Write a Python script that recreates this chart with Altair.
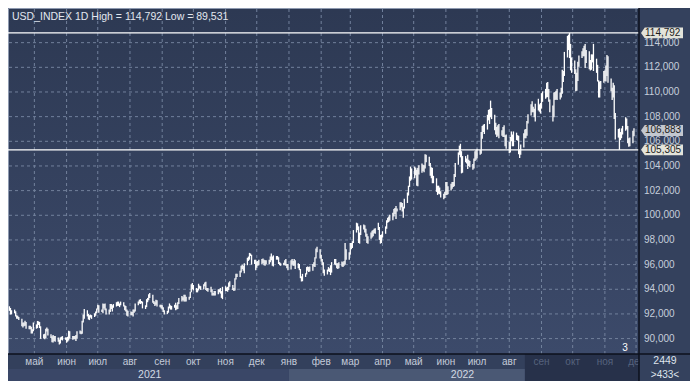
import altair as alt
import pandas as pd

# ---- daily bar lows / highs (weekdays from 2021-04-07 to 2022-11-29) ----
low = [
    # Apr 2021
    92.25, 91.95, 91.97, 92.05, 91.80, 91.60, 91.60, 91.50, 91.00, 90.90, 91.00, 91.05, 90.80, 90.75, 90.75, 90.42, 90.42, 90.60,
    # May 2021
    90.80, 90.85, 91.10, 90.85, 89.98, 90.00, 89.95, 90.05, 90.58, 90.25, 90.05, 89.70, 89.68, 89.80, 89.75, 89.75, 89.53, 89.60, 89.90, 89.85, 89.90,
    # Jun 2021
    89.66, 89.75, 89.85, 90.00, 89.90, 89.95, 89.95, 89.80, 90.00, 90.40, 90.35, 90.40, 91.30, 91.60, 91.80, 91.55, 91.50, 91.70, 91.60, 91.75, 91.85, 92.05,
    # Jul 2021
    92.35, 92.10, 92.15, 92.05, 92.45, 92.30, 91.95, 91.95, 92.15, 92.40, 92.20, 92.50, 92.60, 92.65, 92.65, 92.55, 92.70, 92.60, 92.30, 92.20, 91.85, 91.80,
    # Aug 2021
    91.90, 91.90, 91.80, 92.10, 92.20, 92.70, 92.85, 92.80, 92.85, 92.45, 92.40, 92.55, 92.95, 93.10, 93.30, 92.90, 92.80, 92.65, 92.75, 92.60, 92.55, 92.45,
    # Sep 2021
    92.35, 92.15, 91.95, 92.00, 92.10, 92.45, 92.35, 92.35, 92.50, 92.30, 92.35, 92.40, 92.80, 93.00, 93.10, 93.00, 93.00, 93.00, 93.15, 93.30, 93.75, 94.00,
    # Oct 2021
    93.90, 93.75, 93.75, 93.90, 94.05, 93.95, 94.00, 94.25, 93.95, 93.85, 93.80, 93.75, 93.50, 93.50, 93.50, 93.50, 93.60, 93.75, 93.65, 93.30, 93.20,
    # Nov 2021
    93.85, 93.85, 93.80, 93.95, 94.20, 93.95, 93.85, 93.90, 94.80, 95.00, 95.00, 95.35, 95.65, 95.50, 95.30, 95.95, 96.30, 96.40, 96.70, 96.00, 96.05, 95.55,
    # Dec 2021
    95.75, 95.90, 95.95, 96.05, 96.10, 95.95, 95.90, 96.00, 96.05, 96.20, 96.35, 95.90, 95.85, 96.40, 96.40, 96.05, 95.95, 95.90, 95.95, 95.95, 95.90, 95.70, 95.55,
    # Jan 2022
    95.60, 96.00, 95.90, 95.90, 95.65, 95.70, 95.55, 94.90, 94.63, 94.65, 95.00, 95.20, 95.50, 95.40, 95.45, 95.50, 95.85, 95.80, 96.50, 97.00, 96.50,
    # Feb 2022
    96.25, 95.95, 95.30, 95.10, 95.20, 95.45, 95.40, 95.15, 95.35, 96.00, 95.95, 95.70, 95.65, 95.70, 95.85, 95.80, 95.90, 96.00, 96.40, 96.40,
    # Mar 2022
    96.80, 97.25, 97.35, 97.75, 98.60, 98.80, 97.75, 97.70, 98.40, 98.85, 98.60, 98.25, 97.75, 97.70, 98.10, 98.20, 98.30, 98.55, 98.50, 98.80, 98.00, 97.70, 97.75,
    # Apr 2022
    98.20, 98.50, 98.90, 99.40, 99.45, 99.55, 99.60, 99.90, 100.10, 99.70, 100.30, 100.40, 100.65, 100.30, 99.80, 100.55, 101.00, 101.60, 102.30, 102.80, 102.90,
    # May 2022
    103.00, 103.25, 102.40, 102.35, 103.30, 103.45, 103.60, 103.50, 103.80, 104.30, 104.00, 103.20, 103.00, 102.60, 102.60, 101.90, 101.65, 101.75, 101.70, 101.45, 101.30, 101.40,
    # Jun 2022
    101.65, 101.65, 101.70, 102.00, 102.15, 102.30, 102.35, 103.10, 104.10, 104.90, 104.70, 103.40, 103.45, 104.30, 104.20, 103.75, 104.00, 103.90, 103.70, 103.80, 104.40, 104.50,
    # Jul 2022
    104.60, 104.90, 105.00, 106.20, 106.75, 106.60, 106.95, 107.70, 107.40, 107.95, 107.80, 106.90, 106.55, 106.35, 106.45, 106.25, 106.45, 106.35, 106.35, 105.60, 105.40,
    # Aug 2022
    105.05, 105.10, 106.00, 105.60, 105.60, 106.10, 106.05, 104.95, 104.65, 104.90, 105.50, 106.25, 106.25, 106.45, 107.45, 108.10, 108.35, 108.35, 107.95, 107.60, 108.50, 108.40, 108.25,
    # Sep 2022
    108.65, 109.20, 109.45, 109.55, 109.60, 109.20, 108.35, 107.60, 107.95, 109.35, 109.40, 109.35, 109.40, 109.55, 109.85, 110.80, 111.30, 112.80, 113.40, 112.75, 111.75, 111.55,
    # Oct 2022
    111.45, 110.05, 110.10, 110.90, 112.05, 112.75, 112.90, 112.90, 111.95, 112.35, 111.85, 111.75, 111.80, 112.40, 111.70, 111.55, 110.85, 109.55, 109.55, 110.25, 110.75,
    # Nov 2022
    110.90, 110.85, 111.30, 110.75, 110.05, 109.35, 109.55, 107.80, 106.15, 106.30, 105.31, 106.10, 106.25, 106.55, 106.85, 106.95, 105.85, 105.55, 105.60, 105.85, 106.40,
]

high = [
    # Apr 2021
    92.62, 92.48, 92.30, 92.35, 92.22, 91.90, 91.85, 91.75, 91.60, 91.30, 91.30, 91.45, 91.35, 91.05, 91.05, 90.95, 90.75, 91.30,
    # May 2021
    91.15, 91.43, 91.40, 91.35, 91.00, 90.35, 90.40, 90.80, 90.90, 90.80, 90.35, 90.18, 90.30, 90.20, 90.20, 90.08, 89.92, 90.10, 90.15, 90.20, 90.10,
    # Jun 2021
    90.10, 90.15, 90.63, 90.60, 90.20, 90.20, 90.20, 90.30, 90.60, 90.65, 90.60, 91.45, 91.95, 92.40, 92.30, 92.00, 91.90, 91.95, 91.90, 92.05, 92.20, 92.45,
    # Jul 2021
    92.75, 92.70, 92.35, 92.85, 92.80, 92.85, 92.45, 92.35, 92.80, 92.80, 92.70, 92.80, 92.95, 93.00, 93.00, 92.85, 93.00, 92.95, 92.70, 92.65, 92.35, 92.25,
    # Aug 2021
    92.20, 92.15, 92.35, 92.35, 92.85, 93.00, 93.15, 93.20, 93.05, 93.00, 92.70, 93.20, 93.30, 93.60, 93.70, 93.55, 93.05, 92.95, 93.15, 93.10, 92.75, 92.75,
    # Sep 2021
    92.70, 92.55, 92.30, 92.25, 92.60, 92.85, 92.70, 92.65, 92.75, 92.90, 92.70, 92.95, 93.30, 93.45, 93.35, 93.55, 93.55, 93.40, 93.40, 93.80, 94.40, 94.50,
    # Oct 2021
    94.35, 94.10, 94.05, 94.45, 94.30, 94.25, 94.40, 94.55, 94.60, 94.10, 94.10, 94.20, 94.00, 93.70, 93.85, 93.85, 94.00, 94.00, 94.10, 93.85, 94.20,
    # Nov 2021
    94.25, 94.15, 94.20, 94.55, 94.65, 94.35, 94.10, 94.90, 95.25, 95.25, 95.50, 95.90, 96.00, 95.90, 96.10, 96.55, 96.65, 96.95, 96.90, 96.80, 96.40, 96.40,
    # Dec 2021
    96.25, 96.30, 96.40, 96.45, 96.50, 96.40, 96.35, 96.35, 96.40, 96.65, 96.90, 96.65, 96.75, 96.70, 96.70, 96.60, 96.20, 96.10, 96.15, 96.35, 96.45, 96.05, 96.05,
    # Jan 2022
    96.35, 96.45, 96.30, 96.45, 96.35, 96.10, 96.05, 95.65, 95.05, 95.25, 95.30, 95.80, 95.85, 95.80, 95.85, 96.05, 96.20, 96.60, 97.30, 97.45, 97.25,
    # Feb 2022
    96.80, 96.45, 96.20, 95.60, 95.60, 95.80, 95.70, 95.95, 96.20, 96.45, 96.45, 96.10, 96.10, 96.20, 96.25, 96.20, 96.30, 97.75, 97.25, 97.00,
    # Mar 2022
    97.75, 97.75, 97.90, 98.80, 99.40, 99.35, 99.10, 98.60, 99.20, 99.25, 99.20, 98.90, 98.50, 98.30, 98.60, 98.75, 98.80, 98.90, 98.95, 99.40, 99.05, 98.40, 98.45,
    # Apr 2022
    98.70, 99.10, 99.60, 99.80, 99.90, 100.05, 100.20, 100.50, 100.60, 100.75, 100.55, 101.05, 101.05, 101.00, 100.70, 101.35, 101.85, 102.40, 103.15, 103.95, 103.80,
    # May 2022
    103.95, 103.85, 103.70, 103.85, 104.05, 104.20, 104.10, 104.05, 104.95, 104.90, 104.75, 104.25, 103.90, 103.85, 103.20, 103.00, 102.40, 102.40, 102.25, 101.95, 101.75, 101.90,
    # Jun 2022
    102.70, 102.70, 102.35, 102.55, 102.70, 102.70, 103.35, 104.25, 105.10, 105.65, 105.80, 105.20, 104.80, 104.80, 104.60, 104.90, 104.50, 104.40, 104.15, 104.60, 105.20, 105.30,
    # Jul 2022
    105.40, 105.30, 106.75, 107.25, 107.35, 107.40, 108.15, 108.55, 108.60, 109.30, 108.70, 108.15, 107.50, 107.15, 107.30, 107.40, 106.90, 107.15, 107.30, 106.50, 106.55,
    # Aug 2022
    105.95, 106.35, 106.80, 106.55, 106.80, 106.70, 106.50, 106.45, 105.35, 105.75, 106.65, 106.95, 107.00, 107.65, 108.20, 109.00, 109.25, 108.80, 108.65, 109.05, 109.45, 109.00, 109.10,
    # Sep 2022
    109.90, 110.05, 110.25, 110.75, 110.80, 110.25, 109.40, 108.90, 109.95, 110.00, 110.10, 110.25, 109.95, 110.35, 111.80, 111.70, 113.25, 114.55, 114.65, 114.79, 113.90, 112.80,
    # Oct 2022
    112.55, 111.85, 111.55, 112.45, 112.95, 113.30, 113.55, 113.75, 113.90, 113.40, 113.30, 112.60, 113.05, 113.05, 113.90, 112.70, 112.20, 110.95, 110.85, 110.90, 111.70,
    # Nov 2022
    111.75, 112.15, 113.00, 112.90, 111.10, 110.35, 110.75, 110.55, 108.30, 107.00, 107.05, 106.75, 107.05, 107.25, 107.95, 107.85, 107.25, 106.25, 106.30, 106.85, 107.05,
]

month_starts = ["2021-05-01", "2021-06-01", "2021-07-01", "2021-08-01", "2021-09-01",
                "2021-10-01", "2021-11-01", "2021-12-01", "2022-01-01", "2022-02-01",
                "2022-03-01", "2022-04-01", "2022-05-01", "2022-06-01", "2022-07-01",
                "2022-08-01", "2022-09-01", "2022-10-01", "2022-11-01", "2022-12-01"]
month_labels = ["май", "июн", "июл", "авг", "сен", "окт", "ноя", "дек", "янв", "фев",
                "мар", "апр", "май", "июн", "июл", "авг", "сен", "окт", "ноя", "дек"]
month_colors = ["#c3cbd9"] * 16 + ["#56627d"] * 4

year_labels = ["2021", "2022"]
year_label_dates = ["2021-08-20", "2022-06-17"]
year_starts = ["2021-04-01", "2022-01-01"]
year_ends = ["2022-01-01", "2022-12-10"]
year_colors = ["#3a4767", "#4a5874"]
dim_start = ["2022-08-16"]
dim_end = ["2022-12-10"]

y_ticks = [90, 92, 94, 96, 98, 100, 102, 104, 106, 108, 110, 112, 114]
level_values = [114.792, 105.305]
tag_values = [114.792, 106.883, 105.305]
tag_fills = ["#e3e3da", "#c3c7cf", "#e3e3da"]
title_text = "USD_INDEX 1D High = 114,792 Low = 89,531"
bar_count_top = "2449"
bar_count_bottom = ">433<"

# ---- layout ----
W, H = 682, 373
PX0, PX1 = 1, 631
PY0, PY1 = 1, 346
ROW2 = 361
FONT = "Liberation Sans"
GRID = "#72819c"

def fmt(v):
    return f"{v:.3f}".replace(".", ",")

dates = pd.bdate_range("2021-04-07", periods=len(high))
bars_df = pd.DataFrame({"date": dates.strftime("%Y-%m-%d"), "low": low, "high": high})
months_df = pd.DataFrame({"date": month_starts, "label": month_labels, "col": month_colors})
years_df = pd.DataFrame({"date": year_label_dates, "label": year_labels,
                         "start": year_starts, "end": year_ends, "col": year_colors})
dim_df = pd.DataFrame({"start": dim_start, "end": dim_end})
ticks_df = pd.DataFrame({"v": y_ticks, "label": [fmt(v) for v in y_ticks]})
levels_df = pd.DataFrame({"v": level_values})
tags_df = pd.DataFrame({"v": tag_values, "label": [fmt(v) for v in tag_values], "fill": tag_fills})
one = pd.DataFrame({"k": [0]})

xs = alt.Scale(type="utc",
               domain=[alt.DateTime(year=2021, month=4, date=6, hours=14, utc=True),
                       alt.DateTime(year=2022, month=12, date=3, hours=20, utc=True)],
               range=[PX0, PX1])
ys = alt.Scale(domain=[88.75, 116.73], range=[PY1, PY0], nice=False, zero=False)

def X(f):
    return alt.X(f, scale=xs, axis=None)

def Y(f):
    return alt.Y(f, scale=ys, axis=None)

grad = alt.Gradient(gradient="linear",
                    stops=[alt.GradientStop(offset=0, color="#2d3953"),
                           alt.GradientStop(offset=1, color="#3c4a6a")],
                    x1=0, x2=0, y1=0, y2=1)

plot_bg = alt.Chart(one).mark_rect(color=grad).encode(
    x=alt.value(PX0), x2=alt.value(PX1), y=alt.value(PY0), y2=alt.value(PY1))

month_row = alt.Chart(one).mark_rect(color="#33405c").encode(
    x=alt.value(0), x2=alt.value(PX1), y=alt.value(PY1), y2=alt.value(ROW2))

year_row = alt.Chart(years_df).mark_rect().encode(
    x=X("start:T"), x2="end:T", y=alt.value(ROW2), y2=alt.value(H),
    color=alt.Color("col:N", scale=None))

dim_row = alt.Chart(dim_df).mark_rect(color="#27314a").encode(
    x=X("start:T"), x2="end:T", y=alt.value(PY1), y2=alt.value(H))

hgrid = alt.Chart(ticks_df).mark_rule(color=GRID, strokeDash=[3, 3], strokeWidth=1).encode(
    y=Y("v:Q"), x=alt.value(PX0), x2=alt.value(PX1))

vgrid = alt.Chart(months_df).mark_rule(color=GRID, strokeDash=[3, 3], strokeWidth=1).encode(
    x=X("date:T"), y=alt.value(PY0), y2=alt.value(PY1))

bars = alt.Chart(bars_df).mark_rule(color="#ffffff", strokeWidth=1.3).encode(
    x=X("date:T"), y=Y("low:Q"), y2="high:Q")

levels = alt.Chart(levels_df).mark_rule(color="#ffffff", strokeWidth=1.2).encode(
    y=Y("v:Q"), x=alt.value(0), x2=alt.value(PX1 + 3))

title = alt.Chart(one).mark_text(text=title_text, align="left", baseline="middle",
                                 font=FONT, fontSize=10.5, color="#e2e7ef").encode(
    x=alt.value(4), y=alt.value(9))

three = alt.Chart(one).mark_text(text="3", align="center", baseline="middle",
                                 font=FONT, fontSize=10, color="#ffffff").encode(
    x=alt.value(617), y=alt.value(340))

month_text = alt.Chart(months_df).mark_text(align="center", baseline="middle",
                                            font=FONT, fontSize=10).encode(
    x=X("date:T"), y=alt.value(353.5), text="label:N",
    color=alt.Color("col:N", scale=None))

year_text = alt.Chart(years_df).mark_text(align="center", baseline="middle",
                                          font=FONT, fontSize=10.5, color="#d3d9e3").encode(
    x=X("date:T"), y=alt.value(366.5), text="label:N")

right_panel = alt.Chart(one).mark_rect(color="#34415d").encode(
    x=alt.value(PX1), x2=alt.value(W), y=alt.value(0), y2=alt.value(H))

ylabels = alt.Chart(ticks_df).mark_text(align="left", baseline="middle",
                                        font=FONT, fontSize=10, color="#c6cedb").encode(
    x=alt.value(PX1 + 5), y=Y("v:Q"), text="label:N")

TAG_PATH = "M -1 0 L -0.82 -0.26 L 1 -0.26 L 1 0.26 L -0.82 0.26 Z"
tags = alt.Chart(tags_df).mark_point(shape=TAG_PATH, size=1764, filled=True,
                                     opacity=1, strokeWidth=0).encode(
    x=alt.value(PX1 + 23), y=Y("v:Q"), color=alt.Color("fill:N", scale=None))

tag_text = alt.Chart(tags_df).mark_text(align="left", baseline="middle",
                                        font=FONT, fontSize=10, color="#1c1c1c").encode(
    x=alt.value(PX1 + 6), y=Y("v:Q"), text="label:N")

vline = alt.Chart(one).mark_rule(color="#0c111c", strokeWidth=1.5).encode(
    x=alt.value(PX1), y=alt.value(0), y2=alt.value(H))
hline = alt.Chart(one).mark_rule(color="#0c111c", strokeWidth=1.5).encode(
    y=alt.value(PY1), x=alt.value(0), x2=alt.value(W))

cnt_top = alt.Chart(one).mark_text(text=bar_count_top, align="center", baseline="middle",
                                   font=FONT, fontSize=10.5, color="#dfe4ec").encode(
    x=alt.value(657), y=alt.value(353))
cnt_bottom = alt.Chart(one).mark_text(text=bar_count_bottom, align="center", baseline="middle",
                                      font=FONT, fontSize=10, color="#dfe4ec").encode(
    x=alt.value(657), y=alt.value(366.5))

chart = alt.layer(
    plot_bg, month_row, year_row, dim_row, hgrid, vgrid, bars, levels,
    title, three, month_text, year_text, right_panel, ylabels, tags, tag_text,
    vline, hline, cnt_top, cnt_bottom
).properties(
    width=W, height=H, padding=0,
    autosize=alt.AutoSizeParams(type="none"),
    background="#34415d",
).configure_view(stroke="#8e9ab0", strokeWidth=1)

chart.save("out.html", embed_options={"renderer": "svg", "actions": False})
